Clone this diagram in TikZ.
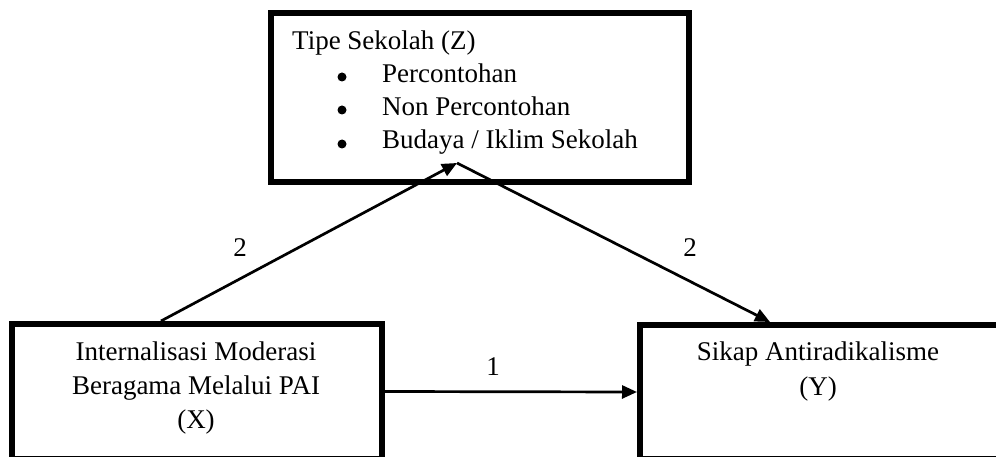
\documentclass[tikz,border=0pt]{standalone}
\usepackage{fontspec}
\setmainfont{Liberation Serif}
\usetikzlibrary{arrows.meta}
\begin{document}
\begin{tikzpicture}[x=1pt,y=-1pt,
  box/.style={draw=black,line width=6pt,rectangle,inner sep=0pt},
  txt/.style={font=\fontsize{27}{32}\selectfont,inner sep=0pt},
  lbl/.style={font=\fontsize{27}{32}\selectfont,inner sep=0pt},
  dot/.style={circle,fill=black,inner sep=0pt,minimum size=9pt},
  arr/.style={line width=2.7pt,-{Triangle[length=15pt,width=13pt]}}]
\useasboundingbox (0,0) rectangle (996,457);
\begin{scope}
\clip (0,0) rectangle (996,457);
% boxes
\node[box,minimum width=418pt,minimum height=169pt] (Z) at (480,97.5) {};
\node[box,minimum width=370pt,minimum height=135pt] (X) at (197,391.5) {};
\node[box,minimum width=380pt,minimum height=134pt] (Y) at (830,392) {};
% Z texts
\node[txt,anchor=base west] (zt) at (292,50) {Tipe Sekolah (Z)};
\node[dot] (b1) at (342,77) {};
\node[dot] (b2) at (342,110) {};
\node[dot] (b3) at (342,144) {};
\node[txt,anchor=base west] (i1) at (382,83) {Percontohan};
\node[txt,anchor=base west] (i2) at (382,116) {Non Percontohan};
\node[txt,anchor=base west] (i3) at (382,149) {Budaya / Iklim Sekolah};
% X texts
\node[txt,anchor=base] (x1) at (196,360) {Internalisasi Moderasi};
\node[txt,anchor=base] (x2) at (196,394) {Beragama Melalui PAI};
\node[txt,anchor=base] (x3) at (196,428) {(X)};
% Y texts
\node[txt,anchor=base] (y1) at (818,360) {Sikap Antiradikalisme};
\node[txt,anchor=base] (y2) at (818,395) {(Y)};
% connectors
\coordinate (xs) at (161,321);
\coordinate (zp) at (457,163);
\coordinate (ye) at (770,322);
\draw[arr] (X.east) -- (Y.west);
\draw[arr] (xs) -- (zp);
\draw[arr] (zp) -- (ye);
% labels
\node[lbl] (l1) at (493,367) {1};
\node[lbl] (l2) at (240,248) {2};
\node[lbl] (l3) at (690,248) {2};
\end{scope}
\end{tikzpicture}
\end{document}
